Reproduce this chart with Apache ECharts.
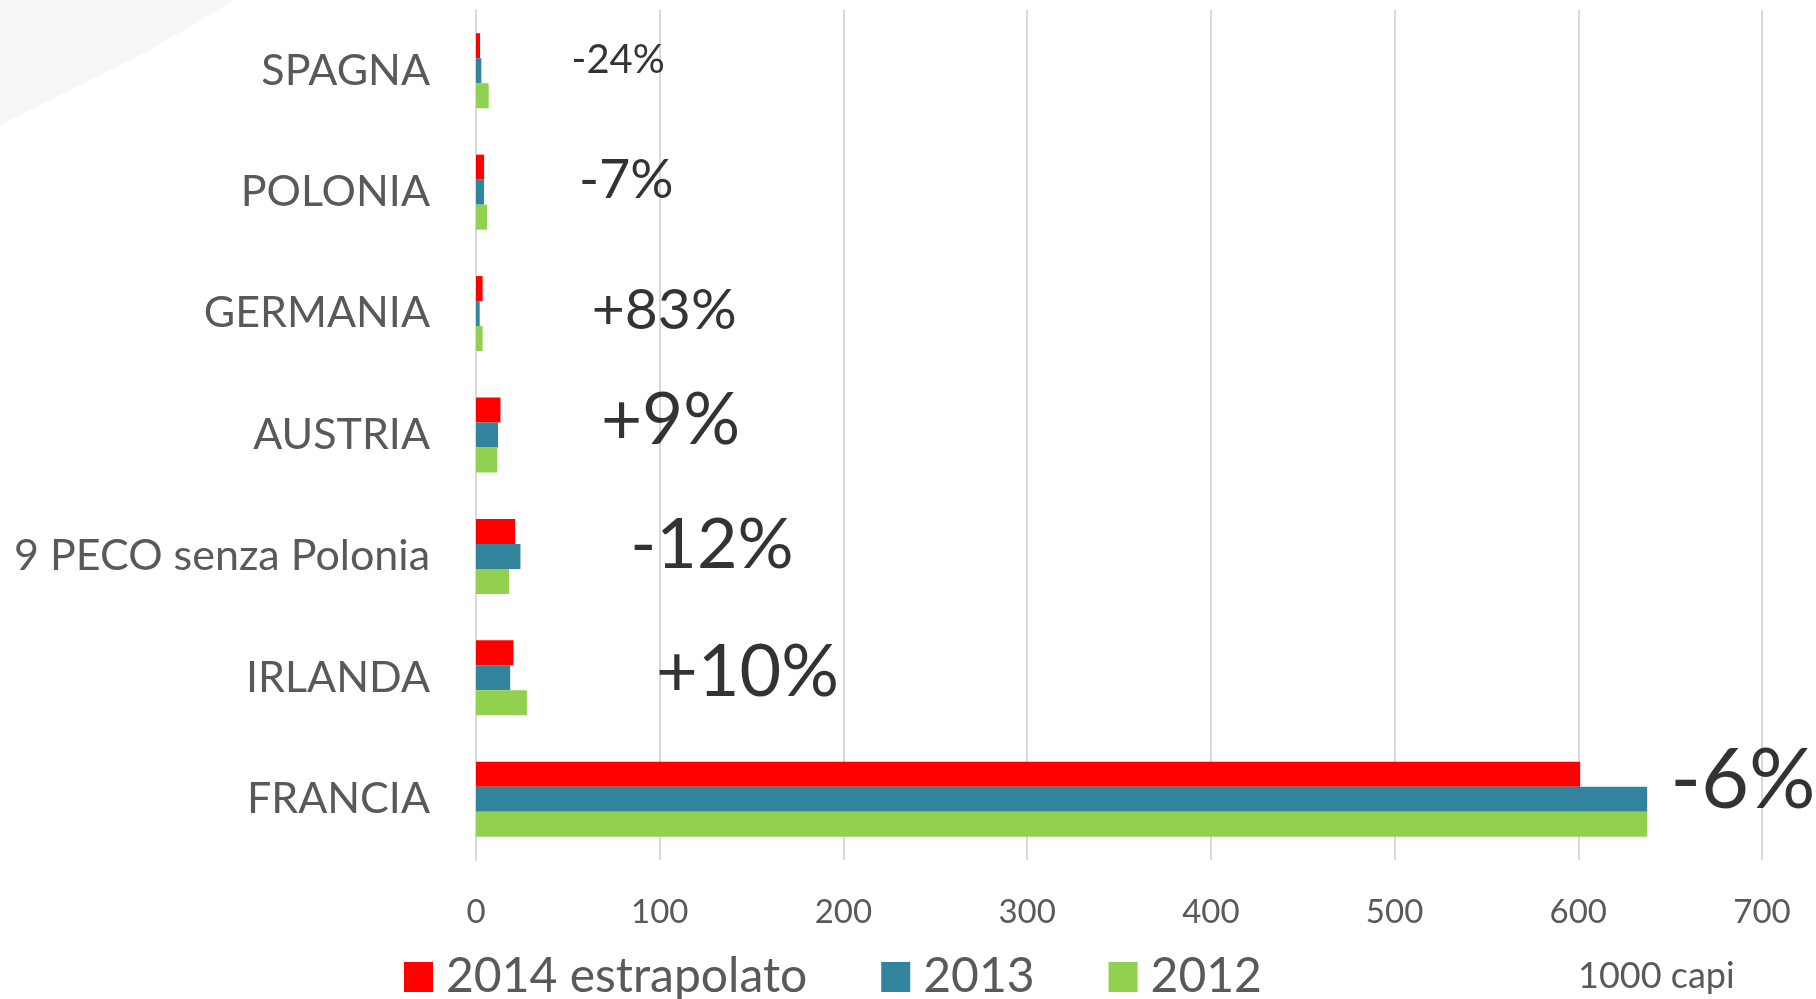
<!DOCTYPE html>
<html>
<head>
<meta charset="utf-8">
<title>Capi</title>
<script src="https://cdn.jsdelivr.net/npm/echarts@6/dist/echarts.min.js"></script>
<style>
  html, body { margin: 0; padding: 0; background: #fff; }
  #chart { width: 1816px; height: 999px; }
</style>
</head>
<body>
<div id="chart"></div>
<script>
// categories, bottom to top (category axis starts at the bottom)
const countries = ["FRANCIA", "IRLANDA", "9 PECO senza Polonia", "AUSTRIA", "GERMANIA", "POLONIA", "SPAGNA"];
const seriesNames = ["2014 estrapolato", "2013", "2012"];
// 1000 capi
const values2014 = [601, 20.4, 21.3, 13.3, 3.6, 4.4, 2.2];
const values2013 = [637.5, 18.6, 24.2, 12.0, 2.0, 4.4, 2.9];
const values2012 = [637.5, 27.7, 18.0, 11.6, 3.6, 6.0, 6.9];
// variation labels
const changeLabels = ["-6%", "+10%", "-12%", "+9%", "+83%", "-7%", "-24%"];
const xTicks = [0, 100, 200, 300, 400, 500, 600, 700];

// where the variation labels sit (value-axis anchor) and how big
const labelX = [650, 98, 84, 68, 63, 56, 52];
const labelSize = [83, 72, 70, 71, 57, 54, 40];
const labelDy = [-18, -5, -11, -14, -3, -12, -11];

const colors = ["#ff0000", "#31849b", "#92d050"];
const gray = "#595959";
const font = "Lato";

const chart = echarts.init(document.getElementById("chart"));

const barSeries = [values2014, values2013, values2012].map((vals, i) => ({
  name: seriesNames[i],
  type: "bar",
  data: vals,
  barWidth: 25,
  barGap: "0%",
  itemStyle: { color: colors[i] },
  silent: true,
}));

const labelSeries = {
  type: "scatter",
  symbolSize: 0,
  silent: true,
  z: 5,
  data: changeLabels.map((t, i) => ({
    value: [labelX[i], countries[i]],
    label: {
      show: true,
      position: "inside",
      align: "left",
      verticalAlign: "middle",
      offset: [0, labelDy[i]],
      formatter: t,
      fontSize: labelSize[i],
      fontFamily: font,
      color: "#000",
    },
  })),
};

chart.setOption({
  animation: false,
  backgroundColor: "#fff",
  textStyle: { fontFamily: font },
  grid: { left: 476, right: 54, top: 10, bottom: 139, containLabel: false },
  xAxis: {
    type: "value",
    min: xTicks[0],
    max: xTicks[xTicks.length - 1],
    interval: 100,
    axisLine: { show: false },
    axisTick: { show: false },
    splitLine: { lineStyle: { color: "#d9d9d9", width: 2 } },
    axisLabel: { color: gray, fontSize: 33, fontFamily: font, margin: 36 },
  },
  yAxis: {
    type: "category",
    data: countries,
    axisLine: { show: true, lineStyle: { color: "#d9d9d9", width: 2 } },
    axisTick: { show: false },
    axisLabel: { color: gray, fontSize: 43, fontFamily: font, margin: 46 },
  },
  legend: {
    data: seriesNames,
    left: 399,
    top: 948,
    itemWidth: 29,
    itemHeight: 30,
    itemGap: 74,
    icon: "rect",
    selectedMode: false,
    textStyle: { color: gray, fontSize: 48, fontFamily: font, padding: [0, 0, 0, 8] },
  },
  graphic: [
    {
      type: "polygon",
      z: -10,
      shape: { points: [[0, 0], [235, 0], [150, 50], [60, 95], [0, 125]] },
      style: { fill: "#f7f7fa" },
    },
    {
      type: "text",
      left: 1578,
      top: 958,
      style: { text: "1000 capi", fill: gray, fontSize: 36, fontFamily: font },
    },
  ],
  series: [...barSeries, labelSeries],
});
</script>
</body>
</html>
